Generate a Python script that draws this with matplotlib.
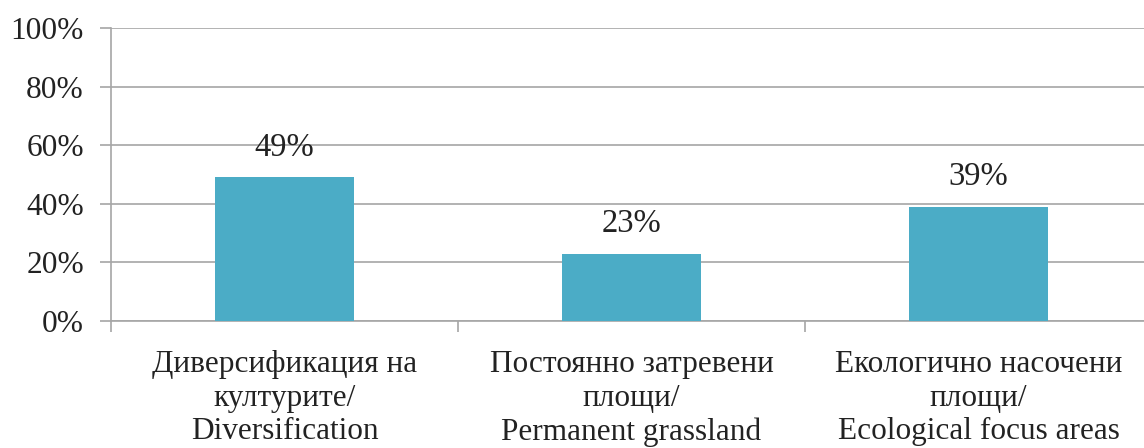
import matplotlib.pyplot as plt
from matplotlib.ticker import FuncFormatter

categories = [
    "Диверсификация на\nкултурите/\nDiversification",
    "Постоянно затревени\nплощи/\nPermanent grassland",
    "Екологично насочени\nплощи/\nEcological focus areas",
]
values = [49, 23, 39]
y_ticks = [0, 20, 40, 60, 80, 100]

plt.rcParams['font.family'] = ['Liberation Serif', 'DejaVu Serif']

W, H = 1144, 448
fig = plt.figure(figsize=(W / 100, H / 100), dpi=100)
# axes spans x 111..1152 px (right edge lies just off the picture), y 28..321 px
ax = fig.add_axes([111 / W, (H - 321) / H, (1152 - 111) / W, (321 - 28) / H])

x = list(range(len(categories)))
ax.bar(x, values, width=0.4, color="#4BACC6", zorder=3)
for xi, v in zip(x, values):
    ax.text(xi, v + 5, f"{v}%", ha="center", va="bottom", fontsize=23.5, color="#222222")

ax.set_xlim(-0.5, 2.5)
ax.set_ylim(0, 100)
ax.set_yticks(y_ticks)
ax.yaxis.set_major_formatter(FuncFormatter(lambda v, p: f"{v:.0f}%"))
ax.grid(axis="y", color="#A6A6A6", linewidth=1.2, zorder=0)

ax.set_xticks([-0.5, 0.5, 1.5, 2.5])
ax.set_xticklabels([])
ax.set_xticks(x, minor=True)
ax.set_xticklabels(categories, minor=True, fontsize=22.5, color="#222222", linespacing=1.21)
ax.tick_params(axis="x", which="minor", length=0, pad=21)
ax.tick_params(axis="x", which="major", length=8, color="#A6A6A6", width=1.2)
ax.tick_params(axis="y", length=8, color="#A6A6A6", width=1.2, labelsize=22.6,
               labelcolor="#222222", pad=11.5)

for s in ["top", "right"]:
    ax.spines[s].set_visible(False)
for s in ["left", "bottom"]:
    ax.spines[s].set_color("#A6A6A6")
    ax.spines[s].set_linewidth(1.2)

fig.savefig("out.png", dpi=100)
